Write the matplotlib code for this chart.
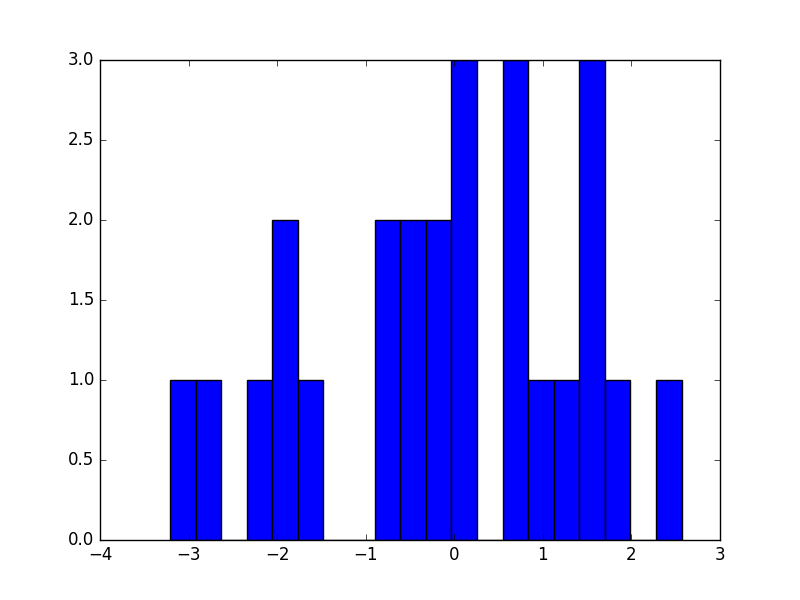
import numpy as np
import matplotlib
matplotlib.use("Agg")
import matplotlib.pyplot as plt

# histogram: 20 equal bins
x_min = -3.21
x_max = 2.566
counts = [1, 1, 0, 1, 2, 1, 0, 0, 2, 2, 2, 3, 0, 3, 1, 1, 3, 1, 0, 1]

if __name__ == "__main__":
    plt.style.use("classic")
    edges = np.linspace(x_min, x_max, len(counts) + 1)
    centers = (edges[:-1] + edges[1:]) / 2

    fig = plt.figure(figsize=(8, 6), dpi=100)
    ax = fig.add_subplot(111)
    ax.hist(centers, bins=edges, weights=counts, color="blue")
    ax.set_xlim(-4, 3)
    ax.set_ylim(0, 3)
    fig.savefig("out.png", dpi=100, facecolor="white")
